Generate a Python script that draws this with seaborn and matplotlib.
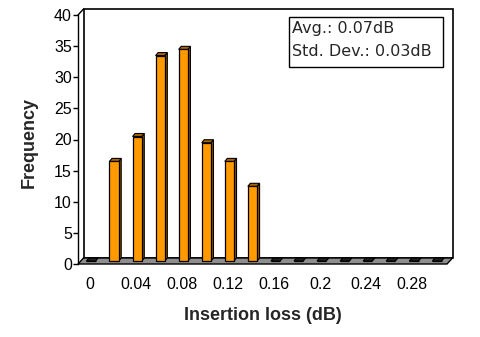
import matplotlib
matplotlib.use("Agg")
import matplotlib.pyplot as plt
import seaborn as sns
from matplotlib.patches import Polygon, Rectangle
from matplotlib.lines import Line2D
from matplotlib.transforms import ScaledTranslation

# ---- data ----
bins = ["0", "0.02", "0.04", "0.06", "0.08", "0.10", "0.12", "0.14",
        "0.16", "0.18", "0.20", "0.22", "0.24", "0.26", "0.28", "0.30"]
frequency = [0, 16, 20, 33, 34, 19, 16, 12, 0, 0, 0, 0, 0, 0, 0, 0]
xtick_labels = ["0", "0.04", "0.08", "0.12", "0.16", "0.2", "0.24", "0.28"]
yticks = [0, 5, 10, 15, 20, 25, 30, 35, 40]
stats_lines = ["Avg.: 0.07dB", "Std. Dev.: 0.03dB"]

sns.set_style("white")
plt.rcParams["font.family"] = ["Liberation Sans", "DejaVu Sans"]

W, H = 480, 337
fig = plt.figure(figsize=(W / 100, H / 100), dpi=100)

def fx(x):
    return x / W

def fy(y):
    return 1 - y / H

left, right, top, bottom = 78, 447, 15, 264
ax = fig.add_axes([fx(left), fy(bottom), fx(right - left), (bottom - top) / H])

orange = "#FF9900"
side_c = "#8B5200"
top_c = "#A86400"

sns.barplot(x=bins, y=frequency, order=bins, color=orange, width=0.40,
            edgecolor="black", linewidth=0.9, saturation=1, ax=ax, zorder=5)

ax.set_xlim(-0.5, len(bins) - 0.5)
ax.set_ylim(0, 40)
ax.set_xlabel("")
ax.set_ylabel("")

# pixel -> data unit conversion
ux = (right - left) / (len(bins))      # px per x unit
uy = (bottom - top) / 40.0             # px per y unit

# wall / floor depth
wd_x, wd_y = 5.5 / ux, 6.0 / uy
# bar depth
bd_x, bd_y = 2.5 / ux, 3.0 / uy
# bar offset toward the back (mid depth)
off = ScaledTranslation(1.5 / 100, 3.0 / 100, fig.dpi_scale_trans)
btrans = ax.transData + off

x0, x1 = -0.5, len(bins) - 0.5

# back wall
wall = Polygon([(x0 + wd_x, wd_y), (x0 + wd_x, 40 + wd_y), (x1 + wd_x, 40 + wd_y),
                (x1 + wd_x, wd_y)], closed=True, facecolor="white",
               edgecolor="black", linewidth=1.2, clip_on=False, zorder=1)
ax.add_patch(wall)
ax.add_line(Line2D([x0, x0 + wd_x], [40, 40 + wd_y], color="black", lw=1.0,
                   clip_on=False, zorder=2))
# floor
floor = Polygon([(x0, 0), (x1, 0), (x1 + wd_x, wd_y), (x0 + wd_x, wd_y)],
                closed=True, facecolor="#8E8E8E", edgecolor="black",
                linewidth=1.0, clip_on=False, zorder=3)
ax.add_patch(floor)

# 3D faces for bars
for p in list(ax.patches):
    if p in (wall, floor):
        continue
    bx, bw, bh = p.get_x(), p.get_width(), p.get_height()
    p.set_transform(btrans)
    p.set_clip_on(False)
    side = Polygon([(bx + bw, 0), (bx + bw + bd_x, bd_y), (bx + bw + bd_x, bh + bd_y),
                    (bx + bw, bh)], closed=True, facecolor=side_c, edgecolor="black",
                   linewidth=0.8, transform=btrans, clip_on=False, zorder=4)
    topf = Polygon([(bx, bh), (bx + bw, bh), (bx + bw + bd_x, bh + bd_y),
                    (bx + bd_x, bh + bd_y)], closed=True,
                   facecolor=top_c if bh > 0 else "#222222", edgecolor="black",
                   linewidth=0.8, transform=btrans, clip_on=False, zorder=6)
    if bh > 0:
        ax.add_patch(side)
    ax.add_patch(topf)

# spines and ticks
for s in ["top", "right", "bottom"]:
    ax.spines[s].set_visible(False)
ax.spines["left"].set_color("black")
ax.spines["left"].set_linewidth(1.0)
ax.spines["left"].set_zorder(7)
ax.set_yticks(yticks)
ax.set_yticklabels([str(v) for v in yticks])
ax.tick_params(axis="y", left=True, direction="out", length=3.5, width=1.0,
               pad=1, labelsize=11.5, colors="black")
ax.set_xticks(list(range(0, len(bins), 2)))
ax.set_xticklabels(xtick_labels)
ax.tick_params(axis="x", bottom=False, pad=6, labelsize=11.5, colors="black")
ax.patch.set_visible(False)

# stats box
fig.patches.append(Rectangle((fx(289), fy(67)), fx(443 - 289), (67 - 17) / H,
                             transform=fig.transFigure, facecolor="white",
                             edgecolor="black", linewidth=1.0, zorder=10))
fig.text(fx(292), fy(29), stats_lines[0], fontsize=11.5, va="center", ha="left",
         family=["DejaVu Sans"], zorder=11)
fig.text(fx(292), fy(52), stats_lines[1], fontsize=11.5, va="center", ha="left",
         family=["DejaVu Sans"], zorder=11)

# axis labels
fig.text(fx(29), fy(142), "Frequency", rotation=90, fontsize=13, fontweight="bold",
         ha="center", va="center")
fig.text(fx(263), fy(315), "Insertion loss (dB)", fontsize=13, fontweight="bold",
         ha="center", va="center")

fig.savefig("out.png", dpi=100)
